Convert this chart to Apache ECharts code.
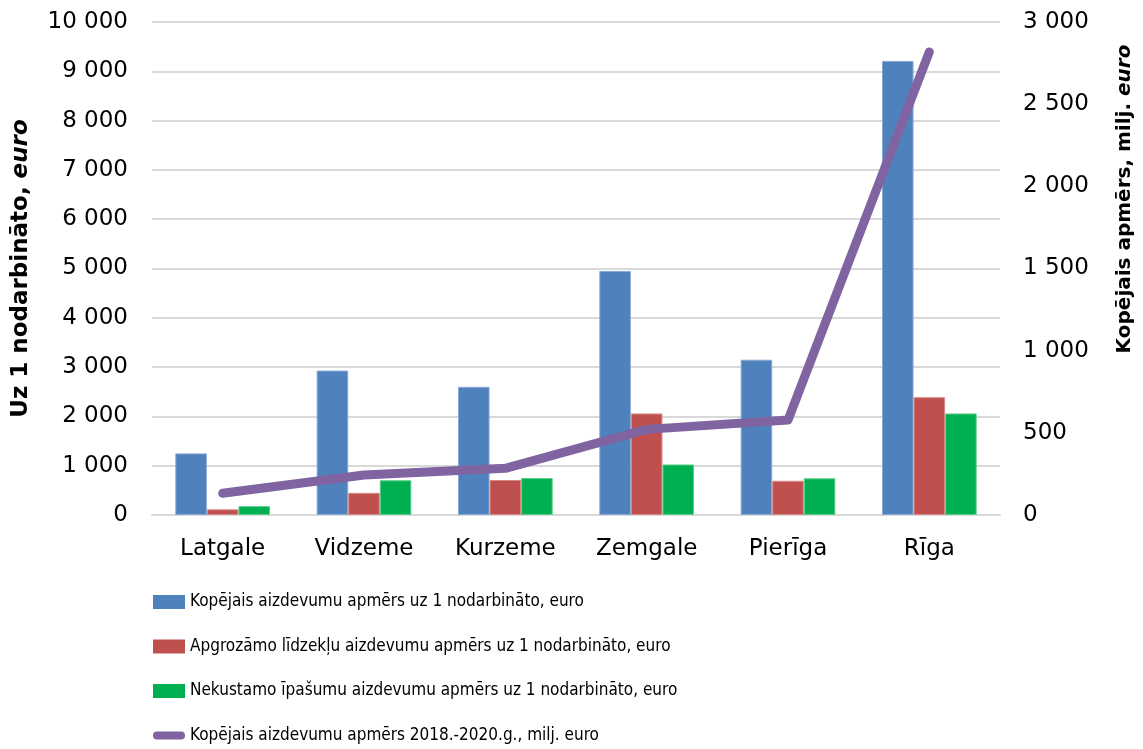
<!DOCTYPE html>
<html>
<head>
<meta charset="utf-8">
<script src="https://cdn.jsdelivr.net/npm/echarts@6/dist/echarts.min.js"></script>
<style>
  html, body { margin: 0; padding: 0; background: #fff; }
  #chart { width: 1143px; height: 749px; }
</style>
</head>
<body>
<div id="chart"></div>
<script>
const regioni = ['Latgale', 'Vidzeme', 'Kurzeme', 'Zemgale', 'Pierīga', 'Rīga']
const kopejais = [1250, 2930, 2600, 4950, 3150, 9210]
const apgrozamo = [115, 450, 710, 2060, 695, 2390]
const nekustamo = [180, 705, 750, 1025, 745, 2060]
const kopaMilj = [132, 243, 284, 521, 578, 2818]

const nosaukumi = [
    'Kopējais aizdevumu apmērs uz 1 nodarbināto, euro',
    'Apgrozāmo līdzekļu aizdevumu apmērs uz 1 nodarbināto, euro',
    'Nekustamo īpašumu aizdevumu apmērs uz 1 nodarbināto, euro',
    'Kopējais aizdevumu apmērs 2018.-2020.g., milj. euro'
]

const fonts = '"DejaVu Sans", Verdana, sans-serif'
// tukšums kā tūkstošu atdalītājs
const fmt = v => String(v).replace(/\B(?=(\d{3})+(?!\d))/g, ' ')

const chart = echarts.init(document.getElementById('chart'))

const barBase = {
    type: 'bar',
    barGap: '0%',
    barCategoryGap: '33%',
    yAxisIndex: 0
}

function nameRich(size) {
    return {
        b: { fontSize: size, fontWeight: 'bold', color: '#000', fontFamily: fonts },
        i: { fontSize: size, fontWeight: 'bold', fontStyle: 'italic', color: '#000', fontFamily: fonts }
    }
}

chart.setOption({
    animation: false,
    textStyle: { fontFamily: fonts },
    grid: { left: 152, right: 140, top: 22, bottom: 234 },
    legend: {
        orient: 'vertical',
        left: 153,
        top: 592,
        padding: 0,
        height: 157,
        itemWidth: 32,
        itemHeight: 14,
        itemGap: 24.5,
        itemStyle: { borderWidth: 0 },
        textStyle: {
            fontFamily: '"DejaVu Sans Condensed", sans-serif',
            fontSize: 17,
            lineHeight: 20,
            color: '#000'
        },
        data: [
            { name: nosaukumi[0], icon: 'rect' },
            { name: nosaukumi[1], icon: 'rect' },
            { name: nosaukumi[2], icon: 'rect' },
            {
                name: nosaukumi[3],
                icon: 'path://M4,0 H28 A4,4 0 0 1 28,8 H4 A4,4 0 0 1 4,0 Z',
                itemStyle: { color: '#8064a2' }
            }
        ]
    },
    xAxis: {
        type: 'category',
        data: regioni,
        axisTick: { show: false },
        axisLine: { lineStyle: { color: '#d9d9d9', width: 2 } },
        axisLabel: { color: '#000', fontSize: 23, margin: 23, fontFamily: fonts }
    },
    yAxis: [
        {
            type: 'value',
            min: 0,
            max: 10000,
            interval: 1000,
            axisLine: { show: false },
            axisTick: { show: false },
            splitLine: { lineStyle: { color: '#d9d9d9', width: 2 } },
            axisLabel: { color: '#000', fontSize: 23, margin: 24, formatter: fmt },
            name: '{b|Uz 1 nodarbināto, }{i|euro}',
            nameLocation: 'middle',
            nameGap: 119,
            nameTextStyle: { rich: nameRich(23) }
        },
        {
            type: 'value',
            min: 0,
            max: 3000,
            interval: 500,
            axisLine: { show: false },
            axisTick: { show: false },
            splitLine: { show: false },
            axisLabel: { color: '#000', fontSize: 23, margin: 23, formatter: fmt },
            name: '{b|Kopējais apmērs, milj. }{i|euro}',
            nameLocation: 'middle',
            nameGap: 115,
            nameTextStyle: {
                padding: [0, 0, 0, 139],
                rich: nameRich(20)
            }
        }
    ],
    series: [
        {
            ...barBase,
            name: nosaukumi[0],
            data: kopejais,
            itemStyle: { color: '#4f81bd', borderColor: '#8aa9d4', borderWidth: 1 }
        },
        {
            ...barBase,
            name: nosaukumi[1],
            data: apgrozamo,
            itemStyle: { color: '#c0504d', borderColor: '#d68a88', borderWidth: 1 }
        },
        {
            ...barBase,
            name: nosaukumi[2],
            data: nekustamo,
            itemStyle: { color: '#00b050', borderColor: '#5ccf8c', borderWidth: 1 }
        },
        {
            type: 'line',
            name: nosaukumi[3],
            yAxisIndex: 1,
            data: kopaMilj,
            symbol: 'none',
            lineStyle: { color: '#8064a2', width: 9, cap: 'round', join: 'round' },
            itemStyle: { color: '#8064a2' }
        }
    ]
})
</script>
</body>
</html>
